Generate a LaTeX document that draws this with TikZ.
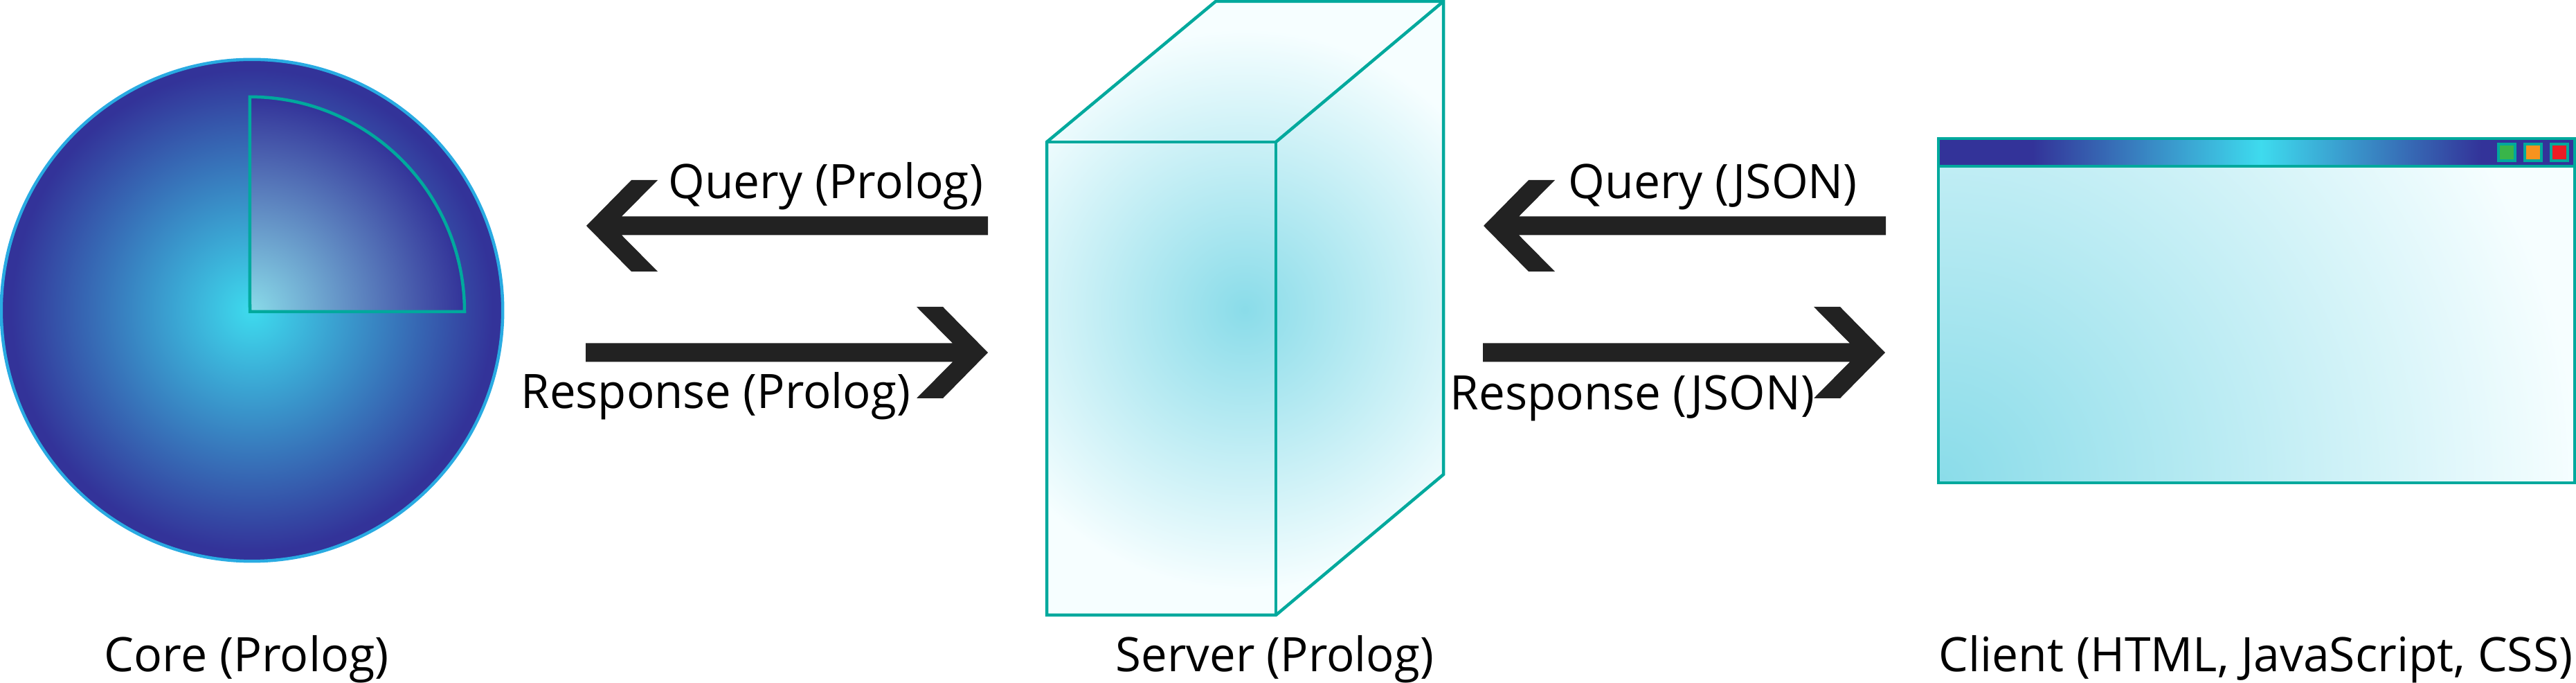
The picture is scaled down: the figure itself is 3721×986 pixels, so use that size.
\documentclass[tikz,border=0pt]{standalone}
\usepackage{fontspec}
\setmainfont{Open Sans}
\usepackage{xcolor}
\definecolor{teal-600}{RGB}{0,169,157}
\definecolor{sky-500}{RGB}{41,171,226}
\definecolor{indigo-800}{RGB}{51,51,153}
\definecolor{cyan-400}{RGB}{62,219,238}
\definecolor{cyan-200}{RGB}{138,220,233}
\definecolor{cyan-50}{RGB}{246,254,255}
\definecolor{ink-900}{RGB}{34,34,34}
\definecolor{green-500}{RGB}{57,181,74}
\definecolor{orange-500}{RGB}{247,147,30}
\definecolor{red-500}{RGB}{237,28,36}
\usepackage{tikz}
\usetikzlibrary{positioning}

\pgfdeclareradialshading{core ball}{\pgfpointorigin}{color(0bp)=(cyan-400); color(24bp)=(indigo-800); color(50bp)=(indigo-800)}
\pgfdeclareradialshading{core wedge}{\pgfpointorigin}{color(0bp)=(cyan-200); color(25bp)=(indigo-800); color(50bp)=(indigo-800)}
\pgfdeclareradialshading{pale ball}{\pgfpointorigin}{color(0bp)=(cyan-200); color(25bp)=(cyan-50); color(50bp)=(cyan-50)}
\pgfdeclarehorizontalshading{title bar}{100bp}{color(0bp)=(indigo-800); color(32.4bp)=(indigo-800); color(50.35bp)=(cyan-400); color(67.65bp)=(indigo-800); color(100bp)=(indigo-800)}

% label text, stretched to the width it has in the picture
\newcommand{\fitlabel}[2]{\resizebox{#1}{\height}{#2}}

\begin{document}
\begin{tikzpicture}[
    x=0.01cm, y=-0.01cm,
    edge line/.style={draw=teal-600, line width=0.045cm, line join=miter},
    caption/.style={anchor=base west, inner sep=0pt, font=\fontsize{19.5pt}{22pt}\selectfont},
    win button/.style={draw=teal-600, line width=0.04cm, minimum size=0.24cm, inner sep=0pt},
    fat arrow/.style={to path={
        ([shift={(0,-13.5)}]\tikztostart) -- ([shift={(#1*51,-13.5)}]\tikztotarget)
        -- ([shift={(#1*103,-66)}]\tikztotarget) -- ([shift={(#1*65,-66)}]\tikztotarget)
        -- (\tikztotarget)
        -- ([shift={(#1*65,66)}]\tikztotarget) -- ([shift={(#1*103,66)}]\tikztotarget)
        -- ([shift={(#1*51,13.5)}]\tikztotarget) -- ([shift={(0,13.5)}]\tikztostart) -- cycle}}
]
\useasboundingbox (0,0) rectangle (3721,986);

% Core - ball with a lit wedge
\node[circle, draw=sky-500, line width=0.045cm, shading=core ball, minimum size=7.24cm, inner sep=0pt] (core) at (364,448) {};
\coordinate (wedge) at (361,450);
\begin{scope}
\clip (wedge) -- ++(310,0) arc[start angle=0, end angle=90, radius=3.1cm] -- cycle;
\shade[shading=core wedge] (wedge) circle[radius=3.1cm];
\end{scope}
\draw[edge line] (wedge) -- ++(310,0) arc[start angle=0, end angle=90, radius=3.1cm] -- cycle;

% Server - box
\coordinate (front nw) at (1512,205);
\coordinate (front ne) at (1843,205);
\coordinate (front se) at (1843,888);
\coordinate (front sw) at (1512,888);
\coordinate (back nw) at (1756,2);
\coordinate (back ne) at (2085,2);
\coordinate (back se) at (2085,685);
\fill[cyan-50] (front nw) -- (back nw) -- (back ne) -- (back se) -- (front se) -- (front sw) -- cycle;
\begin{scope}
\clip (front nw) -- (back nw) -- (back ne) -- (back se) -- (front se) -- (front sw) -- cycle;
\shade[shading=pale ball] (1798,447) circle[radius=4.05cm];
\end{scope}
\draw[edge line] (front nw) -- (back nw) -- (back ne) -- (back se) -- (front se) -- (front sw) -- cycle;
\draw[edge line] (front nw) -- (front ne) -- (front se);
\draw[edge line] (front ne) -- (back ne);

% Client - window
\coordinate (body nw) at (2800,240);
\coordinate (body se) at (3719,697);
\coordinate (bar nw) at (2800,200);
\coordinate (bar se) at (3719,240);
\fill[cyan-50] (body nw) rectangle (body se);
\begin{scope}
\clip (body nw) rectangle (body se);
\shade[shading=pale ball] (2802,697) circle[radius=9.2cm];
\end{scope}
\draw[edge line] (body nw) rectangle (body se);
\shadedraw[edge line, shading=title bar] (bar nw) rectangle (bar se);
\node[win button, fill=green-500] (btn green) at (3621,220) {};
\node[win button, fill=orange-500] (btn orange) at (3659,220) {};
\node[win button, fill=red-500] (btn red) at (3697,220) {};

% Arrows core <-> server
\coordinate (query core) at (847,326);
\coordinate (query server) at (1427,326);
\coordinate (resp core) at (846,509);
\coordinate (resp server) at (1427,509);
\fill[ink-900] (query server) to[fat arrow=1] (query core);
\fill[ink-900] (resp core) to[fat arrow=-1] (resp server);

% Arrows server <-> client
\coordinate (query client) at (2724,326);
\coordinate (query back) at (2143,326);
\coordinate (resp back) at (2142,509);
\coordinate (resp client) at (2723,509);
\fill[ink-900] (query client) to[fat arrow=1] (query back);
\fill[ink-900] (resp back) to[fat arrow=-1] (resp client);

% Labels
\node[caption] (lab query prolog) at (965,287) {\fitlabel{4.54cm}{Query (Prolog)}};
\node[caption] (lab resp prolog) at (752,590) {\fitlabel{5.62cm}{Response (Prolog)}};
\node[caption] (lab query json) at (2265,287) {\fitlabel{4.17cm}{Query (JSON)}};
\node[caption] (lab resp json) at (2094,592) {\fitlabel{5.26cm}{Response (JSON)}};
\node[caption] (lab core) at (150,970) {\fitlabel{4.11cm}{Core (Prolog)}};
\node[caption] (lab server) at (1611,970) {\fitlabel{4.59cm}{Server (Prolog)}};
\node[caption] (lab client) at (2800,970) {\fitlabel{9.15cm}{Client (HTML, JavaScript, CSS)}};
\end{tikzpicture}
\end{document}
